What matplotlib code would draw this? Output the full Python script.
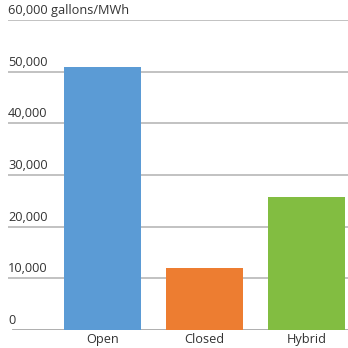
import matplotlib.pyplot as plt
import matplotlib.transforms as mtransforms

categories = ['Open', 'Closed', 'Hybrid']
values = [50900, 12000, 25700]
colors = ['#5B9BD5', '#ED7D31', '#82BD41']
ticks = [0, 10000, 20000, 30000, 40000, 50000, 60000]
tick_labels = ['0', '10,000', '20,000', '30,000', '40,000', '50,000', '60,000 gallons/MWh']

plt.rcParams['font.family'] = ['Open Sans', 'DejaVu Sans']

fig = plt.figure(figsize=(3.48, 3.48), dpi=100)
ax = fig.add_axes([8/348, 18/348, 340/348, 310/348])

x = range(len(categories))
ax.bar(x, values, width=0.755, color=colors, zorder=3)

ax.set_xlim(-0.926, 2.407)
ax.set_ylim(0, 60000)

trans = mtransforms.blended_transform_factory(ax.transAxes, ax.transData)
for t, lab in zip(ticks, tick_labels):
    ax.axhline(t, color='#BDBDBD' if t else '#A8A8A8', lw=1.3, zorder=1,
               xmin=0.015 if t == 0 else 0)
    ax.text(0, t + 600, lab, transform=trans, ha='left', va='bottom',
            fontsize=9.2, color='#333333')

ax.set_xticks(list(x))
ax.set_xticklabels(categories, fontsize=9.2, color='#333333')
ax.tick_params(axis='x', length=0, pad=2)
ax.set_yticks([])
for s in ax.spines.values():
    s.set_visible(False)

fig.savefig('out.png', dpi=100)
